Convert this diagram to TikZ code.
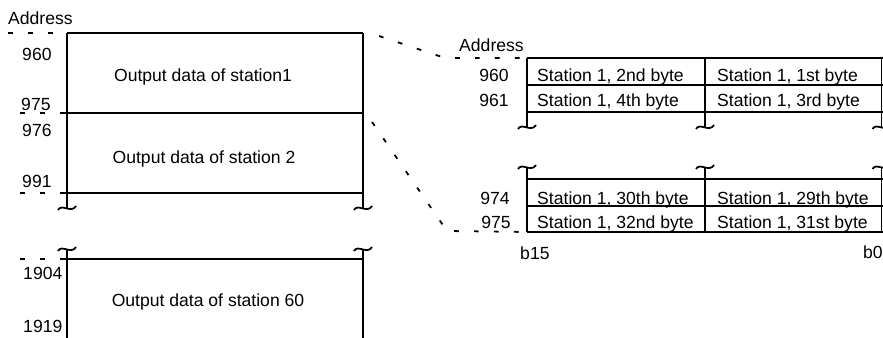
\documentclass[tikz,border=0pt]{standalone}
\usepackage{fontspec}
\setmainfont{Liberation Sans}
\begin{document}
\begin{tikzpicture}[x=0.03cm,y=-0.03cm]
\tikzset{
  frame/.style={line width=1.4pt},
  addr/.style={line width=1.5pt, dash pattern=on 4pt off 13pt},
  conn/.style={line width=1.5pt, dash pattern=on 4pt off 13pt},
  txt/.style={font=\fontsize{15}{17}\selectfont, inner sep=0pt},
  tld/.pic={\draw[line width=1.5pt] (-9,2) .. controls (-5,-5) and (4,6) .. (9,-2);}
}
\useasboundingbox (0,0) rectangle (883,338);

% ---------- left table ----------
\coordinate (a1) at (67,33);  \coordinate (b1) at (363,33);
\coordinate (a2) at (63,113); \coordinate (b2) at (363,113);
\coordinate (a3) at (63,193); \coordinate (b3) at (363,193);
\coordinate (a4) at (63,259); \coordinate (b4) at (363,259);
\coordinate (ta1) at (67,208); \coordinate (tb1) at (363,208);
\coordinate (ta2) at (67,249); \coordinate (tb2) at (363,249);
\coordinate (ea) at (67,338);  \coordinate (eb) at (363,338);

\draw[frame] (a1) -- (b1) (a2) -- (b2) (a3) -- (b3) (a4) -- (b4);
\draw[frame] (a1) -- (ta1) (b1) -- (tb1) (ta2) -- (ea) (tb2) -- (eb);
\pic at (ta1) {tld}; \pic at (tb1) {tld};
\pic at (ta2) {tld}; \pic at (tb2) {tld};

\coordinate (d1) at (8,33);  \coordinate (d2) at (20,113);
\coordinate (d3) at (20,193); \coordinate (d4) at (20,259);
\draw[addr] (d1) -- (a1);
\draw[addr] (d2) -- (a2);
\draw[addr] (d3) -- (a3);
\draw[addr] (d4) -- (a4);

\node[txt, anchor=base west] (adl) at (8,25) {Address};
\node[txt, anchor=base west] (n960) at (22,61) {960};
\node[txt, anchor=base west] (n975) at (21,111) {975};
\node[txt, anchor=base west] (n976) at (22,137) {976};
\node[txt, anchor=base west] (n991) at (22,188) {991};
\node[txt, anchor=base west] (n1904) at (23,279) {1904};
\node[txt, anchor=base west] (n1919) at (23,332) {1919};

\node[txt, anchor=base] (o1) at (203,82) {Output data of station1};
\node[txt, anchor=base] (o2) at (204,164) {Output data of station 2};
\node[txt, anchor=base] (o60) at (208,306) {Output data of station 60};

% ---------- right table ----------
\coordinate (p1) at (527,58);  \coordinate (q1) at (883,58);
\coordinate (p2) at (527,85);  \coordinate (q2) at (883,85);
\coordinate (p3) at (527,112); \coordinate (q3) at (883,112);
\coordinate (p4) at (527,179); \coordinate (q4) at (883,179);
\coordinate (p5) at (527,206); \coordinate (q5) at (883,206);
\coordinate (p6) at (527,232); \coordinate (q6) at (883,232);

\draw[frame] (p1) -- (q1) (p2) -- (q2) (p3) -- (q3)
             (p4) -- (q4) (p5) -- (q5) (p6) -- (q6);

\foreach \x/\n in {527/l, 705/m, 881.5/r}{
  \coordinate (tu\n) at (\x,127);
  \coordinate (tl\n) at (\x,167);
  \draw[frame] (\x,58) -- (tu\n) (tl\n) -- (\x,232);
  \pic at (tu\n) {tld};
  \pic at (tl\n) {tld};
}

\node[txt, anchor=base west] (adr) at (459,52) {Address};
\node[txt, anchor=base east] (r960) at (509,82) {960};
\node[txt, anchor=base east] (r961) at (509,107) {961};
\node[txt, anchor=base east] (r974) at (510,204) {974};
\node[txt, anchor=base east] (r975) at (511,228) {975};
\node[txt, anchor=base west] (b15) at (520,259) {b15};
\node[txt, anchor=base east] (b0) at (883,258) {b0};

\node[txt, anchor=base west] (c12) at (537,82) {Station 1, 2nd byte};
\node[txt, anchor=base west] (c11) at (717,82) {Station 1, 1st byte};
\node[txt, anchor=base west] (c22) at (537,107) {Station 1, 4th byte};
\node[txt, anchor=base west] (c21) at (717,107) {Station 1, 3rd byte};
\node[txt, anchor=base west] (c32) at (537,204) {Station 1, 30th byte};
\node[txt, anchor=base west] (c31) at (717,204) {Station 1, 29th byte};
\node[txt, anchor=base west] (c42) at (537,228) {Station 1, 32nd byte};
\node[txt, anchor=base west] (c41) at (717,228) {Station 1, 31st byte};

% ---------- connectors ----------
\coordinate (u1) at (379,36);  \coordinate (u2) at (445,58);
\coordinate (w1) at (372,122); \coordinate (w2) at (447,231);
\draw[conn] (u1) -- (u2) -- (p1);
\draw[conn] (w1) -- (w2) -- (p6);
\end{tikzpicture}
\end{document}
